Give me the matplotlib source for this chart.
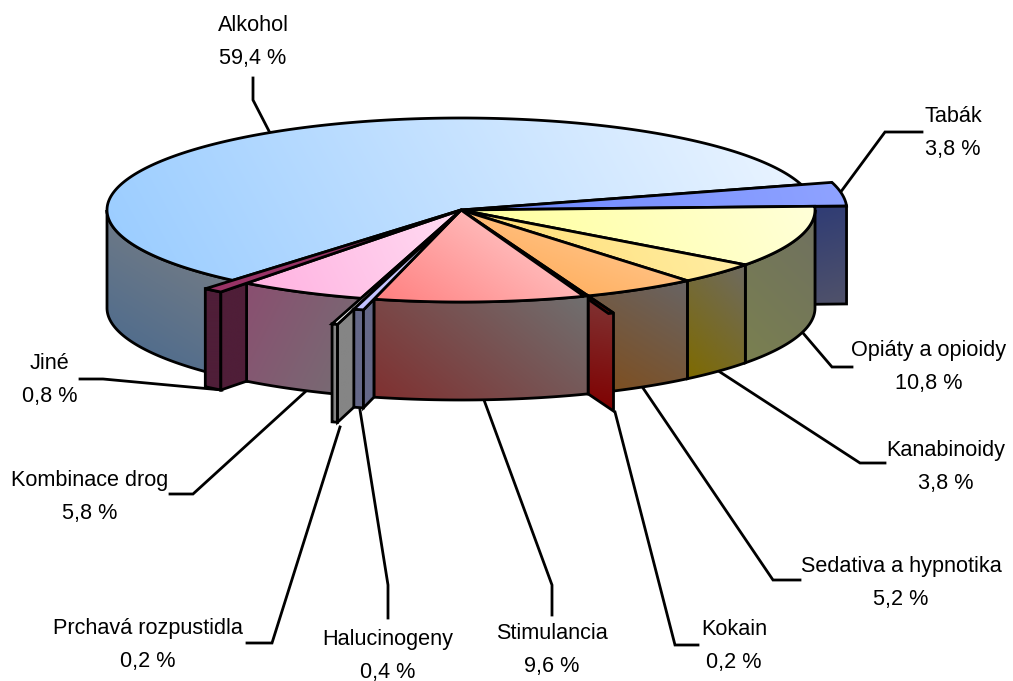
import numpy as np
import matplotlib
matplotlib.use('Agg')
import matplotlib.pyplot as plt
from matplotlib.colors import to_rgb
from matplotlib.patches import Polygon

plt.rcParams['font.family'] = ['Liberation Sans', 'DejaVu Sans']

# pie data, clockwise from Alkohol's far edge
names = ['Tabák', 'Opiáty a opioidy', 'Kanabinoidy', 'Sedativa a hypnotika', 'Kokain', 'Stimulancia',
         'Halucinogeny', 'Prchavá rozpustidla', 'Kombinace drog', 'Jiné', 'Alkohol']
values = [3.8, 10.8, 3.8, 5.2, 0.2, 9.6, 0.4, 0.2, 5.8, 0.8, 59.4]

# how far each slice sticks out of the pie
explode = [0.09, 0, 0, 0, 0.2, 0, 0.12, 0.29, 0, 0.12, 0]

# (start colour, end colour, gradient direction x, y), y points down the screen
top_colors = [('#6C86FF', '#8FA3FF', 1, -0.3), ('#FFFF99', '#FFFFD8', 1, -0.5), ('#FFDC70', '#FFEFA8', 1, -0.5),
              ('#FFA64D', '#FFD0A0', 0.4, -1), ('#A00000', '#A00000', 1, 0), ('#FF7F7F', '#FFD5D5', 0.7, -1),
              ('#C0C0FF', '#D8D8FF', 1, 0), ('#FFFFFF', '#FFFFFF', 1, 0), ('#FFB0E0', '#FFDCF2', 1, -0.5),
              ('#993366', '#993366', 1, 0), ('#99CCFF', '#ECF5FF', 1, -0.55)]
wall_colors = [('#2F3C75', '#50526A', 0.3, 1), ('#7A8050', '#6F7060', 1, -1), ('#7E6A00', '#6E6A60', 1, -1),
               ('#804D1A', '#686464', 0.6, -1), ('#800000', '#7F3535', 0.2, -1), ('#803030', '#707070', 0.8, -1),
               ('#656888', '#656888', 1, 0), ('#858585', '#858585', 1, 0), ('#8A4F70', '#747074', 1, 0.5),
               ('#4F1E38', '#4F1E38', 1, 0), ('#46688F', '#828282', 0.6, -1)]

# drawing order, back to front
draw_order = [10, 0, 1, 2, 3, 4, 5, 8, 9, 7, 6]

# label centre and leader line for each slice, in pixels
label_pos = [(953, 133), (929, 367), (946, 467), (901, 583), (734, 646), (552, 650),
             (388, 656), (148, 645), (90, 497), (50, 380), (253, 42)]
leaders = [[(922, 132), (885, 132), (840, 193)],
           [(852, 367), (832, 367), (803, 333)],
           [(885, 463), (860, 463), (720, 372)],
           [(800, 580), (773, 580), (643, 388)],
           [(698, 645), (675, 645), (615, 412)],
           [(552, 615), (552, 585), (484, 400)],
           [(388, 618), (388, 585), (360, 410)],
           [(247, 643), (272, 643), (340, 427)],
           [(170, 494), (193, 494), (305, 392)],
           [(80, 379), (103, 379), (222, 390)],
           [(253, 78), (253, 100), (270, 133)]]

CX, CY = 461, 210
RX, RY = 354, 92
DEPTH = 98
START = 16
W, H = 1013, 681
LW = 2.0


def rim(t, r=1.0, dy=0):
    t = np.radians(t)
    return np.column_stack((CX + RX * r * np.cos(t), CY - RY * r * np.sin(t) + dy))


def gradient_poly(ax, pts, style, zorder):
    c0, c1, gx, gy = style
    x0, y0 = pts.min(axis=0)
    x1, y1 = pts.max(axis=0)
    xx, yy = np.meshgrid(np.linspace(0, 1, 64), np.linspace(0, 1, 64))
    f = xx * (x1 - x0) * gx + yy * (y1 - y0) * gy
    f = (f - f.min()) / max(f.max() - f.min(), 1e-6)
    rgb = np.array(to_rgb(c0)) * (1 - f[..., None]) + np.array(to_rgb(c1)) * f[..., None]
    poly = Polygon(pts, closed=True, fc='none', ec='black', lw=LW, joinstyle='miter', zorder=zorder + 0.5)
    ax.add_patch(poly)
    im = ax.imshow(rgb, extent=(x0, x1, y1, y0), aspect='auto', interpolation='bilinear', zorder=zorder)
    im.set_clip_path(poly)


def wall(ax, ta, tb, r, style, zorder):
    ts = np.linspace(ta, tb, 80)
    pts = np.vstack((rim(ts, r), rim(ts[::-1], r, DEPTH)))
    gradient_poly(ax, pts, style, zorder)


fig = plt.figure(figsize=(W / 100, H / 100), dpi=100)
ax = fig.add_axes([0, 0, 1, 1])

# slice angles come straight from the values
stops = START - np.cumsum([0] + values) * 3.6

for pos, i in enumerate(draw_order):
    ta, tb = stops[i], stops[i + 1]
    r = 1 + explode[i]
    z = 10 + pos * 3

    # outer wall, only the part below the horizon can be seen
    hi, lo = min(ta, 0), max(tb, -180)
    # close the gap left behind a pulled out neighbour
    if explode[i] == 0 and i > 0 and explode[i - 1] > 0:
        hi = min(stops[i - 1], 0)
    # on the right side the cut face hides the outer wall of a pulled out slice
    hidden = explode[i] > 0 and -90 < ta < 0
    if hi > lo and not hidden:
        wall(ax, hi, lo, r, wall_colors[i], z)

    # cut face of a pulled out slice
    if explode[i] > 0:
        t_face = tb if ta > 0 else ta
        inner = rim([t_face], 1.0)[0]
        tip = rim([t_face], r)[0]
        face = np.array([inner, tip, tip + [0, DEPTH], inner + [0, DEPTH]])
        gradient_poly(ax, face, wall_colors[i], z + 0.7)

    # top of the slice
    ts = np.linspace(ta, tb, max(int(abs(ta - tb)) * 2, 4))
    top = np.vstack(([[CX, CY]], rim(ts, r)))
    gradient_poly(ax, top, top_colors[i], z + 1.5)

# labels and leader lines
for i, name in enumerate(names):
    xs, ys = zip(*leaders[i])
    ax.plot(xs, ys, color='black', lw=LW, solid_joinstyle='miter', zorder=5)
    val = f'{values[i]:.1f} %'.replace('.', ',')
    ax.text(label_pos[i][0], label_pos[i][1], name + '\n' + val, ha='center', va='center',
            fontsize=15.6, color='black', linespacing=1.75, zorder=60)

ax.set_xlim(0, W)
ax.set_ylim(H, 0)
ax.axis('off')
fig.savefig('out.png', dpi=100, facecolor='white')
